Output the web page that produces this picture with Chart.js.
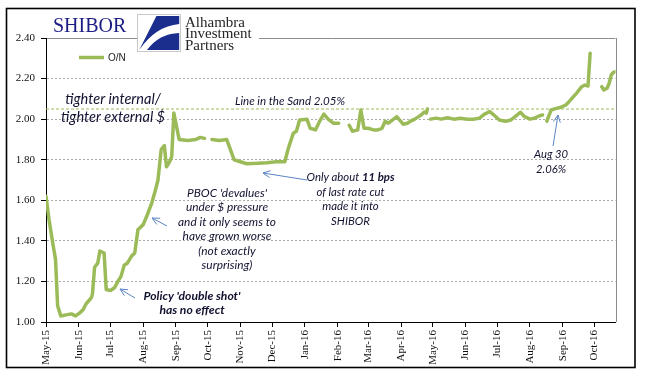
<!DOCTYPE html>
<html><head><meta charset="utf-8">
<script src="https://cdn.jsdelivr.net/npm/chart.js@4.4.1/dist/chart.umd.min.js"></script>
<style>html,body{margin:0;padding:0;background:#fff;}#wrap{width:645px;height:379px;position:relative;}</style>
</head><body><div id="wrap"><canvas id="c" width="645" height="379"></canvas></div>
<script>
// ---------- data ----------
const axisStart = '2015-05-01';
const axisEnd = '2016-10-21';
const tickDates = ['2015-05-01','2015-06-01','2015-07-01','2015-08-01','2015-09-01','2015-10-01','2015-11-01','2015-12-01','2016-01-01','2016-02-01','2016-03-01','2016-04-01','2016-05-01','2016-06-01','2016-07-01','2016-08-01','2016-09-01','2016-10-01'];
const tickLabels = ['May-15','Jun-15','Jul-15','Aug-15','Sep-15','Oct-15','Nov-15','Dec-15','Jan-16','Feb-16','Mar-16','Apr-16','May-16','Jun-16','Jul-16','Aug-16','Sep-16','Oct-16'];
const yMin = 1.00, yMax = 2.40, yStep = 0.20;
const seriesName = 'O/N';
const sandLevel = 2.05;
const dates = [
 '2015-05-01','2015-05-04','2015-05-08','2015-05-10','2015-05-12','2015-05-15','2015-05-20','2015-05-25','2015-05-29',
 '2015-06-02','2015-06-05','2015-06-08','2015-06-13','2015-06-14','2015-06-16','2015-06-19','2015-06-21','2015-06-25','2015-06-27',
 '2015-07-01','2015-07-05','2015-07-08','2015-07-11','2015-07-14','2015-07-17','2015-07-21','2015-07-24','2015-07-27',
 '2015-08-01','2015-08-05','2015-08-09','2015-08-12','2015-08-15','2015-08-18','2015-08-21','2015-08-23','2015-08-26','2015-08-28','2015-08-30',
 '2015-09-04','2015-09-12','2015-09-20','2015-09-24','2015-09-28','2015-10-02',
 '2015-10-05','2015-10-12','2015-10-19','2015-10-26',
 '2015-11-01','2015-11-07','2015-11-17','2015-11-26',
 '2015-12-05','2015-12-13','2015-12-16','2015-12-21','2015-12-24','2015-12-27',
 '2016-01-03','2016-01-06','2016-01-11','2016-01-15','2016-01-19','2016-01-23','2016-01-28','2016-02-02','2016-02-07',
 '2016-02-12','2016-02-15','2016-02-20','2016-02-23','2016-02-26',
 '2016-03-01','2016-03-06','2016-03-10','2016-03-14','2016-03-17','2016-03-20','2016-03-25','2016-03-28','2016-03-30',
 '2016-04-03','2016-04-07','2016-04-10','2016-04-14','2016-04-17','2016-04-20','2016-04-23','2016-04-25','2016-04-26','2016-04-27',
 '2016-04-29','2016-05-04','2016-05-09','2016-05-15','2016-05-21','2016-05-27',
 '2016-06-03','2016-06-09','2016-06-14','2016-06-19','2016-06-24','2016-06-28',
 '2016-07-03','2016-07-09','2016-07-14','2016-07-18','2016-07-23','2016-07-27',
 '2016-08-01','2016-08-05','2016-08-10','2016-08-13','2016-08-15','2016-08-17','2016-08-21','2016-08-26','2016-08-31',
 '2016-09-04','2016-09-07','2016-09-11','2016-09-14','2016-09-19','2016-09-22','2016-09-25','2016-09-27','2016-10-01',
 '2016-10-08','2016-10-10','2016-10-13','2016-10-15','2016-10-17','2016-10-19','2016-10-21'
];
const onValues = [
 1.62,1.50,1.37,1.31,1.08,1.03,1.035,1.04,1.03,
 1.045,1.06,1.09,1.12,1.14,1.27,1.29,1.35,1.34,1.16,
 1.155,1.17,1.20,1.225,1.28,1.29,1.325,1.34,1.455,
 1.48,1.53,1.585,1.64,1.70,1.85,1.87,1.765,1.79,1.815,2.03,
 1.90,1.895,1.90,1.91,1.905,null,
 1.90,1.895,1.90,1.80,
 1.79,1.78,1.782,1.785,
 1.79,1.79,1.85,1.93,1.94,1.996,
 2.00,1.955,1.947,1.99,2.025,2.00,1.98,1.98,null,
 1.97,1.94,1.947,2.045,1.955,
 1.955,1.947,1.947,1.955,1.99,1.98,2.00,2.012,2.00,
 1.975,1.98,1.99,2.00,2.01,2.02,2.035,2.03,2.05,null,
 2.00,2.005,2.00,2.007,2.00,2.004,
 2.00,2.00,2.004,2.025,2.037,2.02,
 1.996,1.99,1.996,2.012,2.034,2.012,
 2.00,2.004,2.017,2.02,null,1.99,2.045,2.053,2.06,
 2.07,2.086,2.11,2.127,2.16,2.168,2.163,2.325,null,
 2.16,2.144,2.152,2.177,2.218,2.23,2.234
];

// ---------- helpers ----------
const dayOf = s => (Date.parse(s + 'T00:00:00Z') - Date.parse(axisStart + 'T00:00:00Z')) / 864e5;
const tickDays = tickDates.map(dayOf);
const labelByDay = {};
tickDays.forEach((d, i) => labelByDay[d] = tickLabels[i]);
const points = dates.map((d, i) => ({x: dayOf(d), y: onValues[i]}));
const xMax = dayOf(axisEnd);

const GREEN = '#9BBB59';
const TXT = '#111130';
const ARROW = '#5b84c4';

function drawArrow(ctx, x1, y1, x2, y2) {
  ctx.save();
  ctx.strokeStyle = ARROW; ctx.lineWidth = 1;
  ctx.beginPath(); ctx.moveTo(x1, y1); ctx.lineTo(x2, y2); ctx.stroke();
  const a = Math.atan2(y2 - y1, x2 - x1), L = 8, s = 0.45;
  ctx.beginPath();
  ctx.moveTo(x2 - L * Math.cos(a - s), y2 - L * Math.sin(a - s));
  ctx.lineTo(x2, y2);
  ctx.lineTo(x2 - L * Math.cos(a + s), y2 - L * Math.sin(a + s));
  ctx.stroke();
  ctx.restore();
}
function fontStr(bold, size) { return 'italic ' + (bold ? 'bold ' : '') + size.toFixed(2) + 'px Lato, "DejaVu Sans", sans-serif'; }
function segWidth(ctx, segs, size) {
  let w = 0;
  segs.forEach(s => { ctx.font = fontStr(s[1], size); w += ctx.measureText(s[0]).width; });
  return w;
}
function drawBlock(ctx, lines, cx, ys, refIdx, refW) {
  const size = 12 * refW / segWidth(ctx, lines[refIdx], 12);
  ctx.save();
  ctx.fillStyle = TXT; ctx.textBaseline = 'middle'; ctx.textAlign = 'left';
  lines.forEach((segs, i) => {
    const w = segWidth(ctx, segs, size);
    let x = cx - w / 2;
    segs.forEach(s => { ctx.font = fontStr(s[1], size); ctx.fillText(s[0], x, ys[i]); x += ctx.measureText(s[0]).width; });
  });
  ctx.restore();
}

const decor = {
  id: 'decor',
  beforeDatasetsDraw(chart) {
    const {ctx, chartArea: ca} = chart;
    ctx.save();
    ctx.strokeStyle = '#8c8c8c'; ctx.lineWidth = 1;
    ctx.beginPath(); ctx.moveTo(Math.round(ca.right) + 0.5, ca.top); ctx.lineTo(Math.round(ca.right) + 0.5, ca.bottom); ctx.stroke();
    ctx.restore();
  },
  afterDraw(chart) {
    const {ctx} = chart;
    ctx.save();
    ctx.strokeStyle = '#000'; ctx.lineWidth = 1.6;
    ctx.strokeRect(6.5, 8.5, 628.5, 359);
    ctx.fillStyle = '#1c1c85'; ctx.font = '20px "Liberation Serif", serif';
    ctx.textBaseline = 'alphabetic'; ctx.textAlign = 'left';
    ctx.fillText('SHIBOR', 53, 32);
    ctx.fillStyle = '#fff'; ctx.fillRect(137, 13, 122, 40);
    const bx = 137.5, by = 14.5, bw = 43, bh = 37;
    ctx.strokeStyle = '#c9c9c9'; ctx.lineWidth = 1; ctx.strokeRect(bx, by, bw, bh);
    ctx.fillStyle = '#1b2e8e';
    const P = (u, v) => [bx + u * bw, by + v * bh];
    ctx.beginPath();
    ctx.moveTo(...P(0.44, 0.04)); ctx.lineTo(...P(0.97, 0.04)); ctx.lineTo(...P(0.97, 0.26));
    ctx.quadraticCurveTo(...P(0.42, 0.32), ...P(0.04, 0.96)); ctx.closePath(); ctx.fill();
    ctx.beginPath();
    ctx.moveTo(...P(0.22, 0.96)); ctx.lineTo(...P(0.97, 0.96)); ctx.lineTo(...P(0.97, 0.50));
    ctx.quadraticCurveTo(...P(0.50, 0.52), ...P(0.22, 0.96)); ctx.closePath(); ctx.fill();
    ctx.fillStyle = '#262626'; ctx.font = '15px "Liberation Serif", serif';
    ctx.fillText('Alhambra', 185, 26.5);
    ctx.fillText('Investment', 185, 38);
    ctx.fillText('Partners', 185, 49.5);
    const ds = chart.data.datasets[0];
    ctx.strokeStyle = ds.borderColor; ctx.lineWidth = 3.5; ctx.lineCap = 'butt';
    ctx.beginPath(); ctx.moveTo(79, 57.5); ctx.lineTo(104, 57.5); ctx.stroke();
    ctx.fillStyle = '#222'; ctx.font = '10px "Liberation Sans", Arial, sans-serif'; ctx.textBaseline = 'middle';
    ctx.fillText(ds.label, 108, 58);
    ctx.restore();

    drawBlock(ctx, [[['tighter internal/', 0]], [['tighter external $', 0]]], 113, [99, 117], 1, 104);
    ctx.save();
    const lsSize = 12 * 110 / segWidth(ctx, [['Line in the Sand 2.05%', 0]], 12);
    ctx.font = fontStr(0, lsSize); ctx.fillStyle = TXT; ctx.textBaseline = 'middle'; ctx.textAlign = 'left';
    ctx.fillText('Line in the Sand 2.05%', 235, 101.5);
    ctx.restore();
    drawBlock(ctx, [[["PBOC 'devalues'", 0]], [['under $ pressure', 0]], [['and it only seems to', 0]], [['have grown worse', 0]], [['(not exactly', 0]], [['surprising)', 0]]],
      227, [193, 207.5, 222, 236.5, 251, 265.5], 2, 98);
    drawBlock(ctx, [[["Policy 'double shot'", 1]], [['has no effect', 1]]], 192, [296, 310], 0, 97);
    drawBlock(ctx, [[['Only about ', 0], ['11 bps', 1]], [['of last rate cut', 0]], [['made it into', 0]], [['SHIBOR', 0]]],
      350.5, [177.5, 192, 206.5, 221], 0, 88);
    drawBlock(ctx, [[['Aug 30', 0]], [['2.06%', 0]]], 551, [154, 169], 0, 34);
    drawArrow(ctx, 167, 226, 152, 218);
    drawArrow(ctx, 135, 298, 120, 289);
    drawArrow(ctx, 307, 180, 263, 173);
    drawArrow(ctx, 553, 146, 558, 115);
  }
};

const serif = {family: '"Liberation Serif", "Times New Roman", serif', size: 11};

new Chart(document.getElementById('c'), {
  type: 'line',
  data: {
    datasets: [
      {label: seriesName, data: points, borderColor: GREEN, backgroundColor: GREEN, borderWidth: 3.5,
       pointRadius: 0, tension: 0, spanGaps: false, borderJoinStyle: 'round', borderCapStyle: 'round', order: 1},
      {label: 'Line in the Sand', data: [{x: 0, y: sandLevel}, {x: xMax, y: sandLevel}], borderColor: GREEN,
       borderWidth: 1, borderDash: [3, 2], pointRadius: 0, order: 2}
    ]
  },
  options: {
    responsive: false, animation: false, devicePixelRatio: 1,
    layout: {padding: {top: 38, right: 29.5, left: 0, bottom: 0}},
    plugins: {legend: {display: false}, tooltip: {enabled: false}, title: {display: false}},
    scales: {
      x: {
        type: 'linear', min: 0, max: xMax,
        afterBuildTicks: s => { s.ticks = tickDays.map(v => ({value: v})); },
        afterFit: s => { s.height = 57; },
        ticks: {autoSkip: false, maxRotation: 90, minRotation: 90, padding: 3, color: '#111', font: serif,
                callback: v => labelByDay[v] || ''},
        grid: {drawOnChartArea: false, drawTicks: true, tickLength: 5, tickColor: '#000', tickWidth: 1},
        border: {display: true, color: '#000', width: 1}
      },
      y: {
        min: yMin, max: yMax,
        afterFit: s => { s.width = 46; },
        ticks: {stepSize: yStep, padding: 6, color: '#111', font: serif, callback: v => Number(v).toFixed(2)},
        grid: {
          color: c => (c.tick && Math.abs(c.tick.value - yMin) < 1e-6) ? 'rgba(0,0,0,0)' :
                      (c.tick && Math.abs(c.tick.value - yMax) < 1e-6 ? '#8c8c8c' : '#ababab'),
          lineWidth: 1, tickLength: 5, tickColor: '#000', tickWidth: 1, tickBorderDash: []
        },
        border: {display: true, color: '#000', width: 1,
                 dash: c => (c.tick && Math.abs(c.tick.value - yMax) < 1e-6) ? [] : [2, 2]}
      }
    }
  },
  plugins: [decor]
});
</script>
</body></html>
